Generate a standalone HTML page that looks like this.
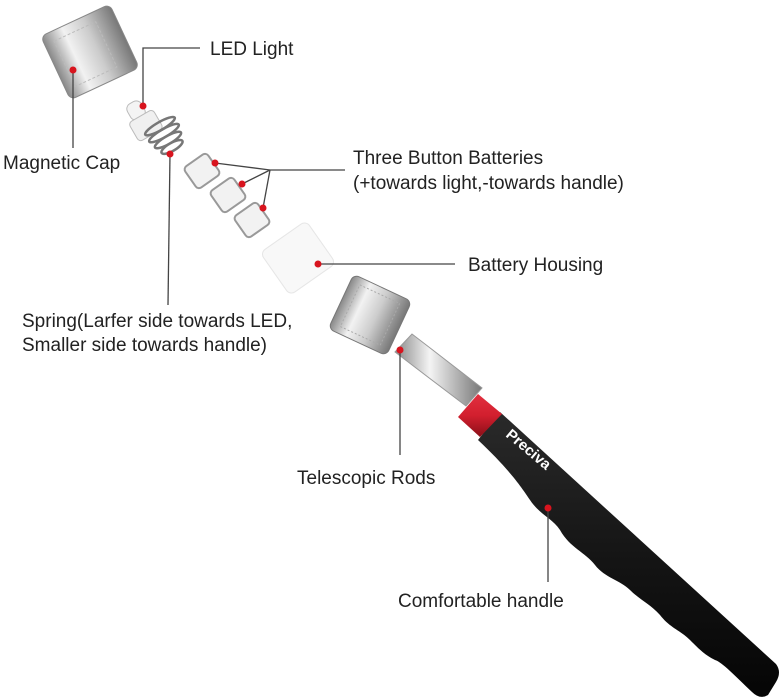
<!DOCTYPE html>
<html><head><meta charset="utf-8"><style>
html,body{margin:0;padding:0;background:#fff;}
svg{display:block;}
text{font-family:"Liberation Sans",sans-serif;font-size:19px;fill:#222;}
</style></head><body>
<svg width="782" height="700" viewBox="0 0 782 700" xmlns="http://www.w3.org/2000/svg">
<defs>
<linearGradient id="met" x1="0" y1="0" x2="1" y2="0">
<stop offset="0" stop-color="#888"/><stop offset="0.3" stop-color="#f2f2f2"/><stop offset="0.6" stop-color="#ccc"/><stop offset="1" stop-color="#777"/></linearGradient>
<linearGradient id="rod" x1="0" y1="0" x2="1" y2="0">
<stop offset="0" stop-color="#888"/><stop offset="0.4" stop-color="#f4f4f4"/><stop offset="1" stop-color="#777"/></linearGradient>
<linearGradient id="blk" x1="0" y1="0" x2="0" y2="1">
<stop offset="0" stop-color="#2a2a2a"/><stop offset="0.5" stop-color="#151515"/><stop offset="1" stop-color="#050505"/></linearGradient>
<linearGradient id="red" x1="0" y1="0" x2="0" y2="1">
<stop offset="0" stop-color="#e23040"/><stop offset="0.5" stop-color="#d21f2e"/><stop offset="1" stop-color="#8a0f18"/></linearGradient>
</defs>

<!-- Magnetic cap -->
<g transform="rotate(-25 90 52)">
<rect x="52" y="17" width="76" height="70" rx="6" fill="url(#met)" stroke="#888"/>
<rect x="62" y="27" width="46" height="50" fill="none" stroke="#bbb" stroke-dasharray="3 2"/>
</g>
<!-- LED -->
<g transform="rotate(-30 145 118)">
<rect x="133" y="98" width="16" height="18" rx="6" fill="#f4f4f4" stroke="#bbb"/>
<rect x="128" y="114" width="28" height="22" rx="4" fill="#f0f0f0" stroke="#bbb"/>
</g>
<!-- spring -->
<g stroke="#777" stroke-width="2.5" fill="none" transform="rotate(-30 168 140)">
<ellipse cx="168" cy="124" rx="17" ry="4"/><ellipse cx="168" cy="132" rx="17" ry="4"/>
<ellipse cx="168" cy="140" rx="15" ry="4"/><ellipse cx="168" cy="148" rx="12" ry="4"/>
</g>
<!-- batteries -->
<g fill="#f2f2f2" stroke="#999" stroke-width="2">
<rect x="188" y="158" width="28" height="26" rx="4" transform="rotate(-35 202 171)"/>
<rect x="214" y="182" width="28" height="26" rx="4" transform="rotate(-35 228 195)"/>
<rect x="238" y="207" width="28" height="26" rx="4" transform="rotate(-35 252 220)"/>
</g>
<!-- housing -->
<g transform="rotate(-35 298 258)">
<rect x="270" y="232" width="56" height="52" rx="6" fill="#f8f8f8" stroke="#e6e6e6"/>
</g>
<!-- rod -->
<polygon points="395,352 412,334 482,388 466,406" fill="url(#rod)" stroke="#999"/>
<!-- handle -->
<path d="M500,412 L776,664 Q782,672 776,682 L768,695 Q760,700 752,692
 C735,676 722,662 715,660 C705,655 700,650 690,640
 C680,630 670,628 660,615 C650,604 640,600 630,590
 C620,580 605,578 595,565 C585,552 570,548 560,530
 C552,518 540,515 530,500 C522,488 510,470 478,440 Z" fill="url(#blk)"/>
<polygon points="458,417 478,394 502,414 480,437" fill="url(#red)"/>
<!-- metal head -->
<g transform="rotate(25 370 315)">
<rect x="338" y="285" width="64" height="60" rx="6" fill="url(#met)" stroke="#777"/>
<rect x="348" y="292" width="44" height="46" fill="none" stroke="#aaa" stroke-dasharray="2 2"/>
</g>
<text x="505" y="436" transform="rotate(40 505 436)" style="fill:#fff;font-weight:bold;font-size:15px;">Preciva</text>

<!-- leaders -->
<g stroke="#444" stroke-width="1.3" fill="none">
<polyline points="143,105 143,48 200,48"/>
<line x1="73" y1="70" x2="73" y2="148"/>
<line x1="170" y1="154" x2="168" y2="305"/>
<polyline points="215,163 270,170 345,170"/>
<line x1="242" y1="184" x2="270" y2="170"/>
<line x1="263" y1="208" x2="270" y2="170"/>
<line x1="318" y1="264" x2="455" y2="264"/>
<line x1="400" y1="350" x2="400" y2="455"/>
<line x1="548" y1="508" x2="548" y2="582"/>
</g>
<g fill="#d8141e">
<circle cx="143" cy="106" r="3.5"/><circle cx="73" cy="70" r="3.5"/><circle cx="170" cy="154" r="3.5"/>
<circle cx="215" cy="163" r="3.5"/><circle cx="242" cy="184" r="3.5"/><circle cx="263" cy="208" r="3.5"/>
<circle cx="318" cy="264" r="3.5"/><circle cx="400" cy="350" r="3.5"/><circle cx="548" cy="508" r="3.5"/>
</g>

<text x="210" y="55">LED Light</text>
<text x="3" y="169">Magnetic Cap</text>
<text x="353" y="164">Three Button Batteries</text>
<text x="353" y="189">(+towards light,-towards handle)</text>
<text x="468" y="271">Battery Housing</text>
<text x="22" y="327">Spring(Larfer side towards LED,</text>
<text x="22" y="351">Smaller side towards handle)</text>
<text x="297" y="484">Telescopic Rods</text>
<text x="398" y="607">Comfortable handle</text>
</svg>
</body></html>
